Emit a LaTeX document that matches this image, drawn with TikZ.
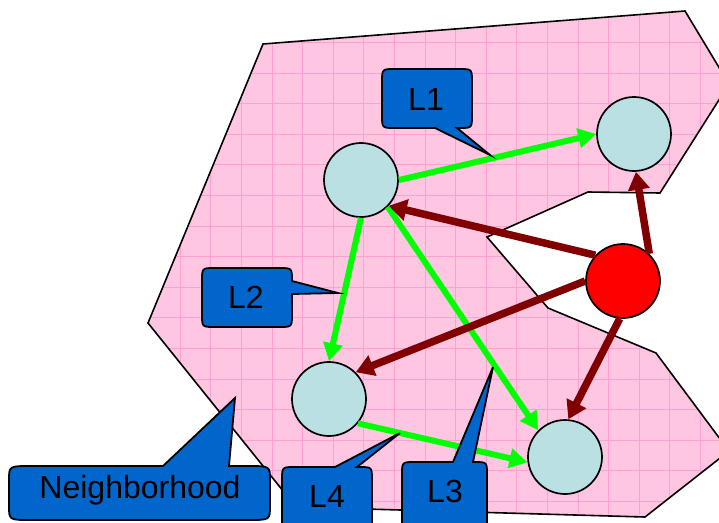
\documentclass[tikz,border=0pt]{standalone}
\usepackage{fontspec}
\setmainfont{Liberation Sans}
\usetikzlibrary{arrows.meta}
\definecolor{pinkfill}{RGB}{255,198,226}
\definecolor{pinkgrid}{RGB}{255,160,210}
\definecolor{nodeblue}{RGB}{187,224,227}
\definecolor{calloutblue}{RGB}{0,102,204}
\definecolor{darkred}{RGB}{128,0,0}
\definecolor{brightgreen}{RGB}{0,255,0}
\begin{document}
\begin{tikzpicture}[x=1pt,y=-1pt,
  vertex/.style={circle, draw=black, line width=1.7pt, fill=nodeblue, minimum size=74pt, inner sep=0pt},
  source/.style={vertex, fill=red},
  garrow/.style={draw=brightgreen, line width=6pt, -{Triangle[length=18pt,width=19pt]}},
  rarrow/.style={draw=darkred, line width=7.5pt, -{Triangle[length=18pt,width=21pt]}},
  callout/.style={fill=calloutblue, draw=black, line width=1.8pt, line join=miter},
  lbl/.style={font=\fontsize{32}{38}\selectfont, inner sep=0pt, anchor=base},
  nlbl/.style={font=\fontsize{32}{38}\selectfont, inner sep=0pt, anchor=base},
  region/.style={draw=black, line width=1.6pt, line join=miter}
]
\useasboundingbox (0,0) rectangle (719,522);
\clip (0,0) rectangle (719,522);

% neighborhood region
\def\regionpath{(263,44) -- (685,11) -- (729,84) -- (660,193) -- (588,192) -- (487,237) -- (548,308) -- (656,353) -- (729,451) -- (645,517) -- (296,507) -- (148,323) -- cycle}
\begin{scope}
  \clip \regionpath;
  \fill[pinkfill] (0,0) rectangle (740,530);
  \foreach \k in {-5,...,15} \draw[pinkgrid, line width=0.8pt] (272+30.6*\k,0) -- ++(0,530);
  \foreach \k in {-3,...,15} \draw[pinkgrid, line width=0.8pt] (0,73+30.6*\k) -- ++(740,0);
\end{scope}
\draw[region] \regionpath;

% vertices
\node[vertex] (A) at (361,180) {};
\node[vertex] (B) at (634,134) {};
\node[vertex] (C) at (329,399) {};
\node[vertex] (D) at (565,457) {};
\node[source] (R) at (623,281) {};

% green links
\draw[garrow] (A.east) -- (B.west);
\draw[garrow] (A.south) -- (C.north);
\draw[garrow] (A.-45) -- (D.135);
\draw[garrow] (C.-40) -- (D.188);

% red arrows
\draw[rarrow] (R.137) -- (A.-43);
\draw[rarrow] (R.46) -- (B.-87);
\draw[rarrow] (R.180) -- (C.45);
\draw[rarrow] (R.-95) -- (D.85);

% callout L1
\path[callout] (395,69) -- (459,69) .. controls (472,69) .. (472,82) -- (472,115) .. controls (472,128) .. (459,128) -- (457,128) -- (490,155) -- (435,128) -- (395,128) .. controls (382,128) .. (382,115) -- (382,82) .. controls (382,69) .. (395,69) -- cycle;
\node[lbl] (l1) at (426,110) {L1};

% callout L2
\path[callout] (215,268) -- (279,268) .. controls (292,268) .. (292,281) -- (338,293) -- (292,294) -- (292,314) .. controls (292,327) .. (279,327) -- (215,327) .. controls (202,327) .. (202,314) -- (202,281) .. controls (202,268) .. (215,268) -- cycle;
\node[lbl] (l2) at (246,308) {L2};

% callout Neighborhood
\path[callout] (31,466) -- (163,466) -- (235,398) -- (229,466) -- (248,466) .. controls (270,466) .. (270,480) -- (270,506) .. controls (270,520) .. (248,520) -- (31,520) .. controls (9,520) .. (9,506) -- (9,480) .. controls (9,466) .. (31,466) -- cycle;
\node[nlbl] (nb) at (140,498) {Neighborhood};

% callout L4
\path[callout] (295,467) -- (335,467) -- (400,433) -- (357,467) -- (359,467) .. controls (372,467) .. (372,480) -- (372,522) .. controls (372,535) .. (359,535) -- (295,535) .. controls (282,535) .. (282,522) -- (282,480) .. controls (282,467) .. (295,467) -- cycle;
\node[lbl] (l4) at (327,507) {L4};

% callout L3
\path[callout] (415,462) -- (453,462) -- (493,367) -- (473,462) -- (474,462) .. controls (487,462) .. (487,475) -- (487,522) .. controls (487,535) .. (474,535) -- (415,535) .. controls (402,535) .. (402,522) -- (402,475) .. controls (402,462) .. (415,462) -- cycle;
\node[lbl] (l3) at (445,502) {L3};
\end{tikzpicture}
\end{document}
